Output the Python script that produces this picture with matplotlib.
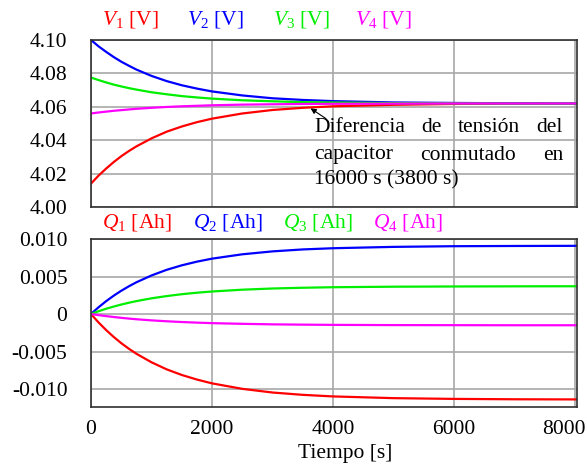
import matplotlib
matplotlib.use('Agg')
import matplotlib.pyplot as plt
import numpy as np

plt.rcParams['font.family'] = 'Liberation Serif'
plt.rcParams['mathtext.fontset'] = 'custom'
plt.rcParams['mathtext.rm'] = 'Liberation Serif'
plt.rcParams['mathtext.it'] = 'Liberation Serif:italic'

FS = 15.5

# time samples [s]
t = [0, 125, 250, 375, 500, 625, 750, 1000, 1250, 1500, 1750, 2000, 2500,
     3000, 3500, 4000, 5000, 6000, 7000, 8030]

# voltages [V]
v1 = [4.0140, 4.0188, 4.0230, 4.0269, 4.0304, 4.0335, 4.0363, 4.0411, 4.0451, 4.0482,
      4.0508, 4.0529, 4.0560, 4.0581, 4.0594, 4.0603, 4.0612, 4.0617, 4.0619, 4.0620]
v2 = [4.1000, 4.0962, 4.0929, 4.0898, 4.0870, 4.0846, 4.0823, 4.0785, 4.0754, 4.0729,
      4.0709, 4.0692, 4.0668, 4.0651, 4.0641, 4.0634, 4.0626, 4.0623, 4.0621, 4.0620]
v3 = [4.0775, 4.0760, 4.0746, 4.0733, 4.0722, 4.0712, 4.0703, 4.0687, 4.0675, 4.0664,
      4.0656, 4.0649, 4.0639, 4.0633, 4.0628, 4.0626, 4.0622, 4.0621, 4.0620, 4.0620]
v4 = [4.0560, 4.0566, 4.0571, 4.0576, 4.0580, 4.0584, 4.0588, 4.0594, 4.0599, 4.0603,
      4.0606, 4.0609, 4.0613, 4.0615, 4.0617, 4.0618, 4.0619, 4.0620, 4.0620, 4.0620]

# charges [Ah]
q1 = [0, -0.00113, -0.00214, -0.00306, -0.00389, -0.00463, -0.00530, -0.00644, -0.00738,
      -0.00813, -0.00874, -0.00925, -0.00998, -0.01047, -0.01078, -0.01099, -0.01122,
      -0.01132, -0.01137, -0.01139]
q2 = [0, 0.00090, 0.00171, 0.00244, 0.00310, 0.00369, 0.00423, 0.00514, 0.00589, 0.00649,
      0.00698, 0.00738, 0.00796, 0.00835, 0.00861, 0.00877, 0.00895, 0.00904, 0.00907, 0.00909]
q3 = [0, 0.00037, 0.00070, 0.00099, 0.00126, 0.00150, 0.00172, 0.00209, 0.00239, 0.00264,
      0.00284, 0.00300, 0.00324, 0.00340, 0.00350, 0.00357, 0.00364, 0.00367, 0.00369, 0.00370]
q4 = [0, -0.00015, -0.00028, -0.00040, -0.00051, -0.00061, -0.00070, -0.00085, -0.00097,
      -0.00107, -0.00115, -0.00122, -0.00131, -0.00138, -0.00142, -0.00145, -0.00148,
      -0.00149, -0.00150, -0.00150]

colors = ['#ff0000', '#0000ff', '#00ee00', '#ff00ff']

W, H = 587, 465
fig = plt.figure(figsize=(W / 100, H / 100), dpi=100)

def px_axes(l, r, top, bot):
    return fig.add_axes([l / W, 1 - bot / H, (r - l) / W, (bot - top) / H])

ax1 = px_axes(91, 577, 40, 207)
ax2 = px_axes(91, 577, 239, 407)

for ax in (ax1, ax2):
    ax.set_xlim(0, 8030)
    ax.set_xticks([0, 2000, 4000, 6000, 8000])
    ax.grid(True, color='#a8a8a8', lw=1.2)
    ax.set_axisbelow(True)
    ax.tick_params(length=0, labelsize=FS)
    ax.tick_params(axis='y', pad=17)
    for s in ax.spines.values():
        s.set_color('#303030')
        s.set_linewidth(1.2)

for y, c in zip([v1, v2, v3, v4], colors):
    ax1.plot(t, y, color=c, lw=1.6)
ax1.set_ylim(4.00, 4.10)
ax1.set_yticks([4.00, 4.02, 4.04, 4.06, 4.08, 4.10])
ax1.set_yticklabels(['4.00', '4.02', '4.04', '4.06', '4.08', '4.10'])
ax1.set_xticklabels([])

for y, c in zip([q1, q2, q3, q4], colors):
    ax2.plot(t, y, color=c, lw=1.6)
ax2.set_ylim(-0.0124, 0.0099)
ax2.set_yticks([0.010, 0.005, 0, -0.005, -0.010])
ax2.set_yticklabels(['0.010', '0.005', '0', '-0.005', '-0.010'])
ax2.set_xticklabels(['0', '2000', '4000', '6000', ''])
ax2.tick_params(axis='x', pad=9)
# last tick label pulled in so it stays inside the figure
fig.text(564 / W, 1 - 429 / H, '8000', fontsize=FS, ha='center', va='center')

# annotation with arrow
ax1.annotate('', xy=(3590, 4.0600), xytext=(3920, 4.0520),
             arrowprops=dict(arrowstyle='-|>', color='black', lw=0.8,
                             mutation_scale=8))

# justified paragraph
fig.canvas.draw()
renderer = fig.canvas.get_renderer()
left_px, right_px = 314, 563
lines = [['Diferencia', 'de', 'tensión', 'del'],
         ['capacitor', 'conmutado', 'en'],
         ['16000 s (3800 s)']]
line_y = [128, 155, 180]
for words, yp in zip(lines, line_y):
    if len(words) == 1:
        fig.text(left_px / W, 1 - yp / H, words[0], fontsize=FS, va='center', ha='left')
        continue
    widths = []
    for w in words:
        tt = fig.text(0, 0, w, fontsize=FS)
        widths.append(tt.get_window_extent(renderer).width)
        tt.remove()
    gap = (right_px - left_px - sum(widths)) / (len(words) - 1)
    x = left_px
    for w, wd in zip(words, widths):
        fig.text(x / W, 1 - yp / H, w, fontsize=FS, va='center', ha='left')
        x += wd + gap

# colored legend labels
v_labels = [r'$\mathit{V}_\mathit{1}$ [V]', r'$\mathit{V}_\mathit{2}$ [V]',
            r'$\mathit{V}_\mathit{3}$ [V]', r'$\mathit{V}_\mathit{4}$ [V]']
q_labels = [r'$\mathit{Q}_\mathit{1}$ [Ah]', r'$\mathit{Q}_\mathit{2}$ [Ah]',
            r'$\mathit{Q}_\mathit{3}$ [Ah]', r'$\mathit{Q}_\mathit{4}$ [Ah]']
v_x = [102, 187, 273, 355]
q_x = [102, 193, 283, 373]
for lab, x, c in zip(v_labels, v_x, colors):
    fig.text(x / W, 1 - 19 / H, lab, color=c, fontsize=FS, va='center', ha='left')
for lab, x, c in zip(q_labels, q_x, colors):
    fig.text(x / W, 1 - 222 / H, lab, color=c, fontsize=FS, va='center', ha='left')

fig.text(345 / W, 1 - 453 / H, 'Tiempo [s]', fontsize=FS, ha='center', va='center')

fig.savefig('out.png', dpi=100)
